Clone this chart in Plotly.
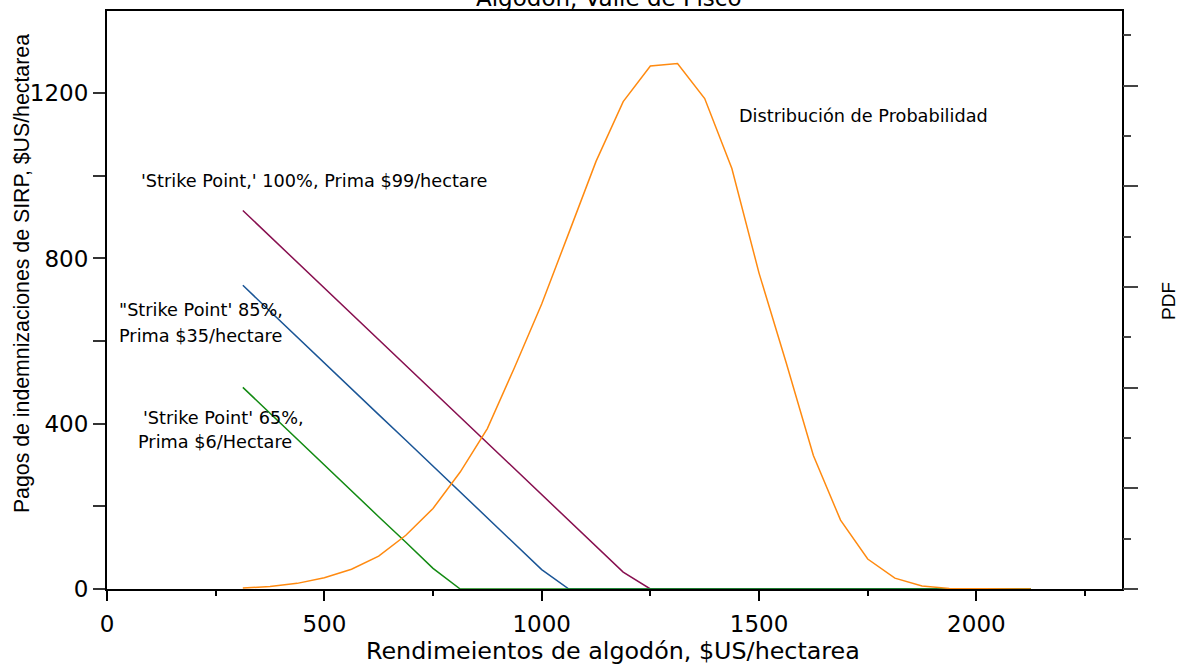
import plotly.graph_objects as go

# Yields ($US/hectarea) on the common grid
yields = [312.5, 375, 437.5, 500, 562.5, 625, 687.5, 750, 812.5, 875, 937.5, 1000,
          1062.5, 1125, 1187.5, 1250, 1312.5, 1375, 1437.5, 1500, 1562.5, 1625,
          1687.5, 1750, 1812.5, 1875, 1937.5, 2000, 2062.5, 2125]

# Indemnity payouts ($US/hectarea)
pay_100 = [916, 853.5, 791, 728.5, 666, 603.5, 541, 478.5, 416, 353.5, 291, 228.5,
           166, 103.5, 41, 0, 0, 0, 0, 0, 0, 0, 0, 0, 0, 0, 0, 0, 0, 0]
pay_85 = [735, 672, 610, 547, 485, 422, 360, 297, 235, 172, 110, 47,
          0, 0, 0, 0, 0, 0, 0, 0, 0, 0, 0, 0, 0, 0, 0, 0, 0, 0]
pay_65 = [488, 425, 363, 300, 238, 175, 113, 50, 0,
          0, 0, 0, 0, 0, 0, 0, 0, 0, 0, 0, 0, 0, 0, 0, 0, 0, 0, 0, 0, 0]

# Probability density (arbitrary units, right axis)
pdf = [0.05, 0.12, 0.28, 0.56, 0.98, 1.63, 2.67, 4.00, 5.81, 7.97, 11.00, 14.16,
       17.69, 21.24, 24.21, 25.98, 26.10, 24.36, 20.89, 15.69, 11.24, 6.63,
       3.42, 1.49, 0.54, 0.15, 0.03, 0.01, 0.0, 0.0]

x_ticks = [0, 500, 1000, 1500, 2000]
x_minor = [250, 750, 1250, 1750, 2250]
y_ticks = [0, 400, 800, 1200]
y_minor = [200, 600, 1000]
y2_ticks = [0, 5, 10, 15, 20, 25]
y2_minor = [2.5, 7.5, 12.5, 17.5, 22.5, 27.5]

FONT_H = "DejaVu Sans"
FONT_V = "Liberation Sans"

fig = go.Figure()
fig.add_trace(go.Scatter(x=yields, y=pay_100, mode="lines",
                         line=dict(color="#870f4f", width=1.5), yaxis="y"))
fig.add_trace(go.Scatter(x=yields, y=pay_85, mode="lines",
                         line=dict(color="#1a5596", width=1.5), yaxis="y"))
fig.add_trace(go.Scatter(x=yields, y=pay_65, mode="lines",
                         line=dict(color="#128a12", width=1.5), yaxis="y"))
fig.add_trace(go.Scatter(x=yields, y=pdf, mode="lines",
                         line=dict(color="#ff8a10", width=1.5), yaxis="y2"))

L, R, T, B = 107, 1122, 9, 589
W = R - L
H = B - T


def px(xp):
    return (xp - L) / W


def py(yp):
    return (B - yp) / H


annos = [
    dict(text="'Strike Point,' 100%, Prima $99/hectare", x=px(314), y=py(180), size=17.7),
    dict(text="\"Strike Point' 85%,", x=px(117), y=py(309), size=17.7, xanchor="left"),
    dict(text="Prima $35/hectare", x=px(117), y=py(335), size=17.7, xanchor="left"),
    dict(text="'Strike Point' 65%,", x=px(223), y=py(417), size=17.7),
    dict(text="Prima $6/Hectare", x=px(215), y=py(441), size=17.7),
    dict(text="Distribución de Probabilidad", x=px(863), y=py(114), size=17.7),
]
annotations = []
for a in annos:
    annotations.append(dict(text=a["text"], x=a["x"], y=a["y"], xref="paper", yref="paper",
                            xanchor=a.get("xanchor", "center"), yanchor="middle",
                            showarrow=False,
                            font=dict(family=FONT_H, size=a["size"], color="black")))

# Title (partly above the page, as in the reference)
annotations.append(dict(text="Algodón, Valle de Pisco", x=px(608), y=1, xref="paper", yref="paper",
                        xanchor="center", yanchor="bottom", showarrow=False, yshift=-2,
                        font=dict(family=FONT_H, size=23, color="black")))
# X title
annotations.append(dict(text="Rendimeientos de algodón, $US/hectarea", x=px(613), y=py(651),
                        xref="paper", yref="paper", xanchor="center", yanchor="middle",
                        showarrow=False, font=dict(family=FONT_H, size=23.8, color="black")))
# Y title
annotations.append(dict(text="Pagos de indemnizaciones de SIRP, $US/hectarea", x=px(22), y=py(273),
                        xref="paper", yref="paper", xanchor="center", yanchor="middle",
                        textangle=-90, showarrow=False,
                        font=dict(family=FONT_V, size=21.3, color="black")))
# Right title
annotations.append(dict(text="PDF", x=px(1169), y=py(300), xref="paper", yref="paper",
                        xanchor="center", yanchor="middle", textangle=-90, showarrow=False,
                        font=dict(family=FONT_V, size=19, color="black")))

fig.update_layout(
    width=1179, height=667,
    margin=dict(l=L, r=1179 - R, t=T, b=667 - B),
    paper_bgcolor="white", plot_bgcolor="white",
    showlegend=False,
    annotations=annotations,
    xaxis=dict(range=[0, 2335], tickvals=x_ticks, ticks="outside", ticklen=10, tickwidth=1.5,
               tickcolor="black", showline=True, linewidth=2, linecolor="black", mirror=True,
               showgrid=False, zeroline=False, layer="below traces", ticklabelstandoff=3,
               tickfont=dict(family=FONT_H, size=23, color="black"),
               minor=dict(tickvals=x_minor, ticks="outside", ticklen=5, tickwidth=1.5,
                          tickcolor="black", showgrid=False)),
    yaxis=dict(range=[0, 1399], tickvals=y_ticks, ticks="outside", ticklen=12, tickwidth=1.5,
               tickcolor="#333", showline=True, linewidth=2, linecolor="black", mirror=True,
               showgrid=False, zeroline=False, layer="below traces",
               tickfont=dict(family=FONT_H, size=23, color="black"),
               minor=dict(tickvals=y_minor, ticks="outside", ticklen=12, tickwidth=1.5,
                          tickcolor="#333", showgrid=False)),
    yaxis2=dict(range=[0, 28.71], overlaying="y", side="right", tickvals=y2_ticks,
                showticklabels=False, ticks="outside", ticklen=15, tickwidth=1.5,
                tickcolor="#444", showline=False, showgrid=False, zeroline=False,
                minor=dict(tickvals=y2_minor, ticks="outside", ticklen=8, tickwidth=1.5,
                           tickcolor="#444", showgrid=False)),
)

fig.write_html("out.html", config={"displayModeBar": False},
               post_script="document.body.style.margin='0px';")
